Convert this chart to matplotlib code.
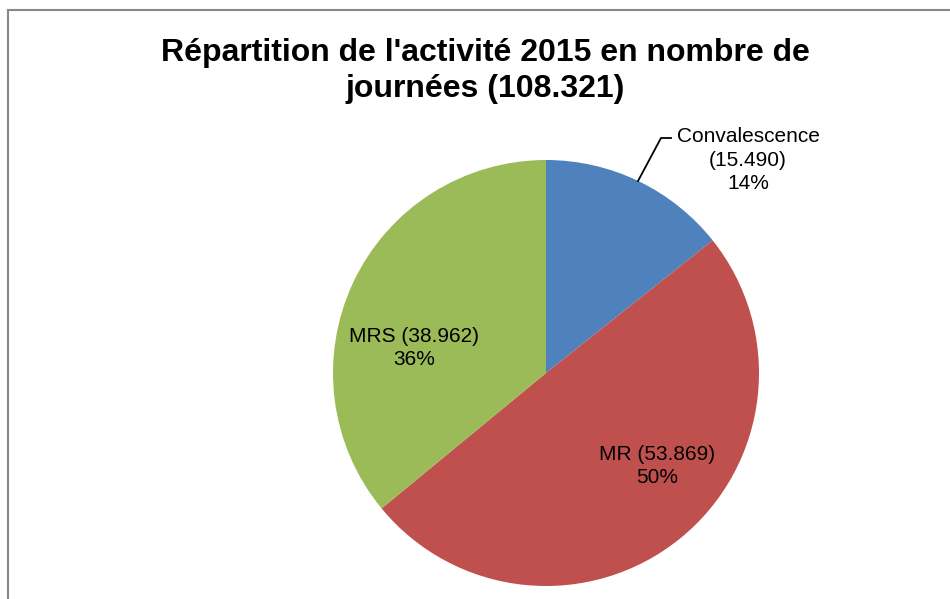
import matplotlib.pyplot as plt
from matplotlib.lines import Line2D

plt.rcParams['font.family'] = ['Liberation Sans', 'DejaVu Sans']

# data
labels = ['Convalescence', 'MR', 'MRS']
days = [15490, 53869, 38962]
pcts = ['14%', '50%', '36%']
colors = ['#4F81BD', '#C0504D', '#9BBB59']
title = "Répartition de l'activité 2015 en nombre de\njournées (108.321)"

W, H = 950, 599
fig = plt.figure(figsize=(9.5, 5.99), dpi=100)

# pie centre / radius in pixels
cx, cy, r = 546, 373, 213
ax = fig.add_axes([(cx - r) / W, (H - cy - r) / H, 2 * r / W, 2 * r / H])
ax.pie(days, colors=colors, startangle=90, counterclock=False,
       wedgeprops=dict(linewidth=0))
ax.set_xlim(-1, 1)
ax.set_ylim(-1, 1)
ax.set_aspect('equal')
ax.axis('off')


def fmt(n):
    return '{:,}'.format(n).replace(',', '.')


def px(x, y):
    # pixel position -> data coords of the pie axes
    return (x - cx) / r, (cy - y) / r


# labels (positioned by baseline of last line)
txt = ['{}\n({})\n{}'.format(labels[0], fmt(days[0]), pcts[0]),
       '{} ({})\n{}'.format(labels[1], fmt(days[1]), pcts[1]),
       '{} ({})\n{}'.format(labels[2], fmt(days[2]), pcts[2])]
pos = [(748, 189), (657, 483), (414, 365)]
for t, p in zip(txt, pos):
    x, y = px(*p)
    ax.text(x, y, t, ha='center', va='baseline', fontsize=15, linespacing=1.3,
            color='black', clip_on=False)

# leader line for Convalescence
lx, ly = zip(px(638, 181), px(661, 138), px(671, 138))
ax.plot(lx, ly, color='black', lw=1.3, clip_on=False)

fig.text(485 / W, 1 - 97 / H, title, ha='center', va='baseline',
         fontsize=23, fontweight='bold', linespacing=1.27)

# chart frame (left and top edges visible)
fig.add_artist(Line2D([7.5 / W, 7.5 / W], [0, 1 - 10 / H], transform=fig.transFigure,
                      color='#888888', lw=1.5))
fig.add_artist(Line2D([7.5 / W, 1], [1 - 10 / H, 1 - 10 / H], transform=fig.transFigure,
                      color='#888888', lw=1.5))

fig.savefig('out.png', dpi=100)
